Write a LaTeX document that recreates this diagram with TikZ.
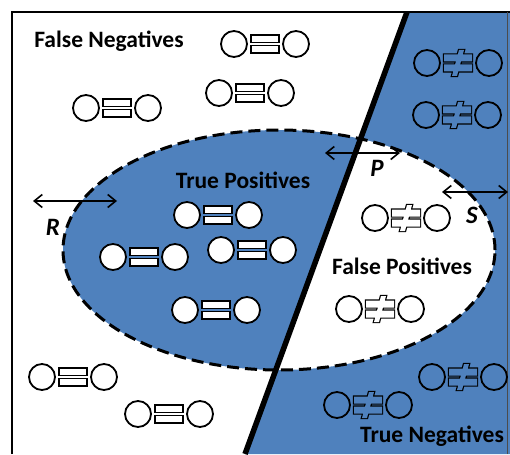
\documentclass[tikz,border=0pt]{standalone}
\usepackage{fontspec}
\setmainfont{Carlito}
\usetikzlibrary{arrows.meta}
\definecolor{ppblue}{HTML}{4F81BD}
\tikzset{
  lbl/.style={font=\fontsize{23.5}{26}\selectfont\bfseries, inner sep=0pt, anchor=base},
  letter/.style={font=\fontsize{25}{28}\selectfont\bfseries\itshape, inner sep=0pt, anchor=base},
  dbl/.style={{Straight Barb[length=8pt,width=13pt]}-{Straight Barb[length=8pt,width=13pt]}, line width=1.6pt},
  symline/.style={line width=1.8pt},
  boxline/.style={line width=1.1pt},
  pics/eqsym/.style={code={
    \draw[symline, fill=white] (-31,0) circle[radius=13pt];
    \draw[symline, fill=white] (31,0) circle[radius=13pt];
    \draw[boxline, fill=white] (-14,-9) rectangle (14,-1.6);
    \draw[boxline, fill=white] (-14,1.6) rectangle (14,9);
  }},
  pics/neqsym/.style={code={
    \draw[symline] (-31,0) circle[radius=13pt];
    \draw[symline] (31,0) circle[radius=13pt];
    \path[draw=black, line width=2.4pt, line join=miter]
      (-14,-8.5) rectangle (14,-1.5)
      (-14,1.5) rectangle (14,8.5)
      (-6,13) -- (-1,13) -- (6,-13) -- (1,-13) -- cycle;
    \path[pic actions]
      (-14,-8.5) rectangle (14,-1.5)
      (-14,1.5) rectangle (14,8.5)
      (-6,13) -- (-1,13) -- (6,-13) -- (1,-13) -- cycle;
  }}
}
\begin{document}
\begin{tikzpicture}[x=1pt,y=-1pt]
\useasboundingbox (0,0) rectangle (510,454);
\fill[white] (0,0) rectangle (510,454);
% regions
\fill[ppblue] (407,12) -- (510,12) -- (510,454) -- (245,454) -- cycle;
\begin{scope}
  \clip (279,250) ellipse[x radius=216pt, y radius=120pt];
  \fill[ppblue] (12,12) -- (407,12) -- (245,454) -- (12,454) -- cycle;
  \fill[white] (407,12) -- (510,12) -- (510,454) -- (245,454) -- cycle;
\end{scope}
\draw[line width=3pt, dash pattern=on 12pt off 6pt] (279,250) ellipse[x radius=216pt, y radius=120pt];
% separating line
\coordinate (ltop) at (407,12);
\coordinate (lbot) at (245,454);
\draw[line width=5.5pt] (ltop) -- (lbot);
% frame
\draw[line width=1.8pt] (12,454) -- (12,12) -- (510,12);
\draw[line width=1pt, black!70] (507,12) -- (507,454);
% texts
\node[lbl] (fn) at (109,48) {False Negatives};
\node[lbl] (tp) at (243,188) {True Positives};
\node[lbl] (fp) at (402,274) {False Positives};
\node[lbl] (tn) at (432,442) {True Negatives};
% arrows and letters
\coordinate (r1) at (33,201); \coordinate (r2) at (117,201);
\draw[dbl] (r1) -- (r2);
\node[letter] (R) at (53,235) {R};
\coordinate (p1) at (325,153); \coordinate (p2) at (400,153);
\draw[dbl] (p1) -- (p2);
\node[letter] (P) at (377,177) {P};
\coordinate (s1) at (442,192); \coordinate (s2) at (508,192);
\draw[dbl] (s1) -- (s2);
\node[letter] (S) at (472,223) {S};
% equal symbols
\pic at (265,44) {eqsym};
\pic at (117,108) {eqsym};
\pic at (250,93) {eqsym};
\pic at (218,215) {eqsym};
\pic at (144,257) {eqsym};
\pic at (252,250) {eqsym};
\pic at (216,310) {eqsym};
\pic at (73,377) {eqsym};
\pic at (169,414) {eqsym};
% not-equal symbols
\pic[fill=ppblue] at (458,63) {neqsym};
\pic[fill=ppblue] at (457,115) {neqsym};
\pic[fill=white] at (406,218) {neqsym};
\pic[fill=white] at (380,309) {neqsym};
\pic[fill=ppblue] at (463,377) {neqsym};
\pic[fill=ppblue] at (368,405) {neqsym};
\end{tikzpicture}
\end{document}
